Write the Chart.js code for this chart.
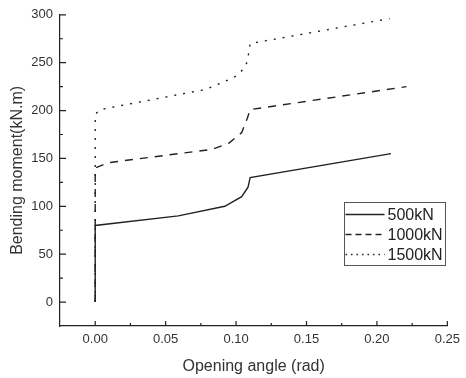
<!DOCTYPE html>
<html>
<head>
<meta charset="utf-8">
<script src="https://cdn.jsdelivr.net/npm/chart.js@4/dist/chart.umd.min.js"></script>
<style>
  html, body { margin: 0; padding: 0; background: #fff; }
  #wrap { width: 466px; height: 378px; }
</style>
</head>
<body>
<div id="wrap"><canvas id="chart" width="466" height="378"></canvas></div>
<script>
// moment-rotation curves for three axial loads
const seriesNames = ['500kN', '1000kN', '1500kN'];
const angle500 = [0, 0, 0.059, 0.092, 0.104, 0.1085, 0.110, 0.210];
const moment500 = [0, 80, 90, 100, 110, 120, 130, 155];
const angle1000 = [0, 0, 0.009, 0.083, 0.095, 0.104, 0.108, 0.110, 0.221];
const moment1000 = [0, 140, 145.5, 159.5, 166, 177, 192, 201, 225];
const angle1500 = [0, 0, 0.0035, 0.078, 0.090, 0.100, 0.105, 0.108, 0.110, 0.209];
const moment1500 = [0, 196, 201, 222, 229, 236, 243, 251, 270, 296];

const xTickValues = [0, 0.05, 0.10, 0.15, 0.20, 0.25];
const yTickValues = [0, 50, 100, 150, 200, 250, 300];

const pts = (xs, ys) => xs.map((v, i) => ({x: v, y: ys[i]}));
const ink = '#222';
const dashes = [[], [8, 7], [2, 7]];
const legendDashes = [[], [6, 4], [1.5, 4]];

// inward major/minor ticks + boxed legend
const decor = {
  id: 'decor',
  afterDraw(chart) {
    const {ctx, chartArea: a, scales: {x, y}} = chart;
    ctx.save();
    ctx.strokeStyle = ink;
    ctx.lineWidth = 1.2;
    ctx.beginPath();
    const xs = xTickValues;
    xs.forEach((v, i) => {
      const px = x.getPixelForValue(v);
      ctx.moveTo(px, a.bottom); ctx.lineTo(px, a.bottom - 5);
      if (i < xs.length - 1) {
        const mx = x.getPixelForValue((v + xs[i + 1]) / 2);
        ctx.moveTo(mx, a.bottom); ctx.lineTo(mx, a.bottom - 3);
      }
    });
    const ys = yTickValues;
    ys.forEach((v, i) => {
      const py = y.getPixelForValue(v);
      ctx.moveTo(a.left, py); ctx.lineTo(a.left + 6, py);
      if (i < ys.length - 1) {
        const my = y.getPixelForValue((v + ys[i + 1]) / 2);
        ctx.moveTo(a.left, my); ctx.lineTo(a.left + 3, my);
      }
    });
    ctx.stroke();

    // legend
    const bx = 344.5, by = 202.5, bw = 101, bh = 63, row = 20;
    ctx.lineWidth = 1;
    ctx.strokeStyle = '#555';
    ctx.strokeRect(bx, by, bw, bh);
    ctx.font = '16px "Liberation Sans", Arial, sans-serif';
    ctx.textBaseline = 'middle';
    ctx.fillStyle = ink;
    chart.data.datasets.forEach((ds, i) => {
      const cy = by + 12 + i * row;
      ctx.beginPath();
      ctx.setLineDash(legendDashes[i]);
      ctx.lineWidth = 1.4;
      ctx.strokeStyle = ink;
      ctx.moveTo(bx + 1, cy); ctx.lineTo(bx + 40, cy);
      ctx.stroke();
      ctx.setLineDash([]);
      ctx.fillText(ds.label, bx + 43, cy + 1);
    });
    ctx.restore();
  }
};

const series = [pts(angle500, moment500), pts(angle1000, moment1000), pts(angle1500, moment1500)];

new Chart(document.getElementById('chart'), {
  type: 'scatter',
  data: {
    datasets: series.map((d, i) => ({
      label: seriesNames[i],
      data: d,
      showLine: true,
      borderColor: ink,
      borderWidth: 1.4,
      borderDash: dashes[i],
      pointRadius: 0,
      tension: 0,
      fill: false
    }))
  },
  options: {
    responsive: false,
    animation: false,
    layout: {padding: {left: 0, right: 18, top: 13, bottom: 0}},
    plugins: {legend: {display: false}, tooltip: {enabled: false}},
    scales: {
      x: {
        type: 'linear',
        min: -0.025,
        max: 0.25,
        afterBuildTicks: s => { s.ticks = xTickValues.map(v => ({value: v})); },
        afterFit: s => { s.height = 52; },
        grid: {display: false, drawTicks: false},
        border: {display: true, color: ink, width: 1.2},
        ticks: {
          padding: 6,
          color: '#333',
          font: {family: '"Liberation Sans", Arial, sans-serif', size: 13},
          callback: v => v.toFixed(2)
        },
        title: {
          display: true,
          text: 'Opening angle (rad)',
          color: '#333',
          font: {family: '"Liberation Sans", Arial, sans-serif', size: 16},
          padding: {top: 0, bottom: 2}
        }
      },
      y: {
        type: 'linear',
        min: -25,
        max: 300,
        afterBuildTicks: s => { s.ticks = yTickValues.map(v => ({value: v})); },
        afterFit: s => { s.width = 60; },
        grid: {display: false, drawTicks: false},
        border: {display: true, color: ink, width: 1.2},
        ticks: {
          padding: 7,
          color: '#333',
          font: {family: '"Liberation Sans", Arial, sans-serif', size: 13}
        },
        title: {
          display: true,
          text: 'Bending moment(kN.m)',
          color: '#333',
          font: {family: '"Liberation Sans", Arial, sans-serif', size: 16},
          padding: {top: 8, bottom: 0}
        }
      }
    }
  },
  plugins: [decor]
});
</script>
</body>
</html>
